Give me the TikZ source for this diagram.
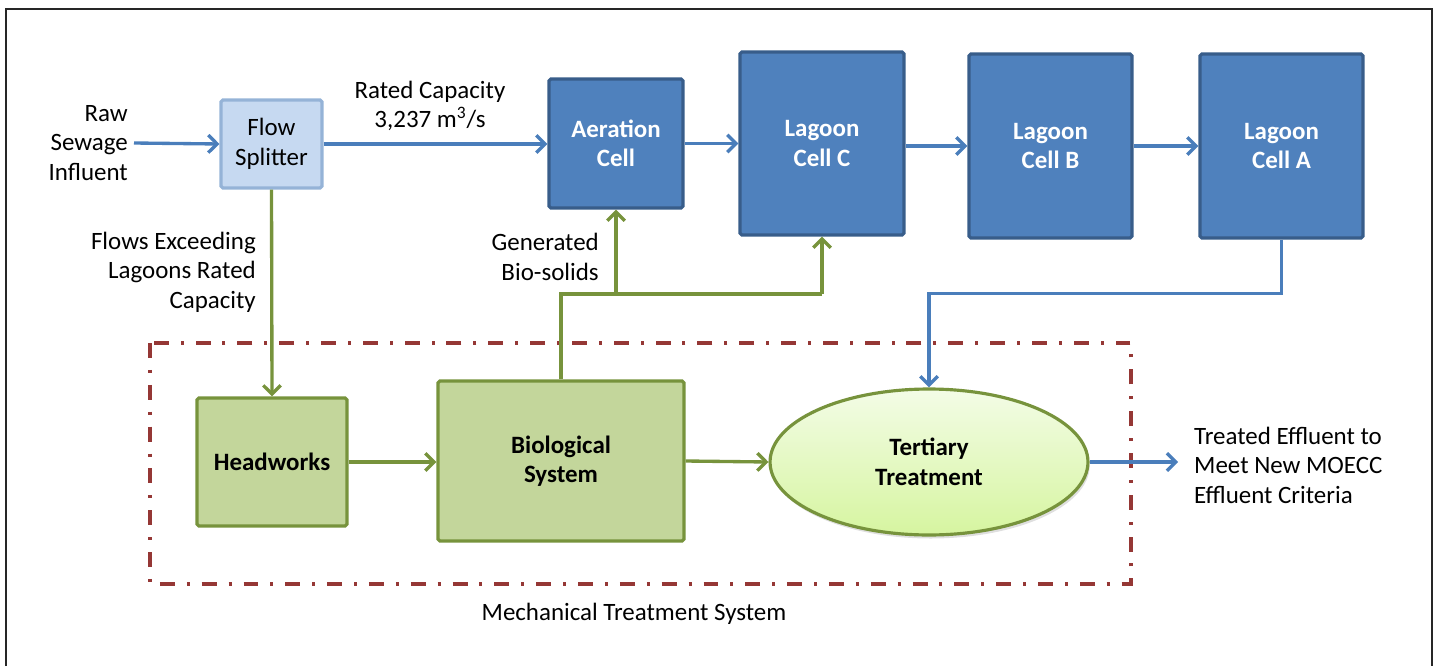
\documentclass[tikz,border=0pt]{standalone}
\usepackage{fontspec}
\setmainfont{Carlito}
\usetikzlibrary{arrows.meta,shapes.geometric,shadows}

\begin{document}
\begin{tikzpicture}[x=0.02cm, y=-0.02cm,
    every node/.style={font=\fontsize{14.2}{16.8}\selectfont},
    bluebox/.style={draw=lagoon_edge, fill=lagoon_blue, line width=1.8pt, rounded corners=1pt,
        text=white, align=center, inner sep=0pt, font=\fontsize{14.2}{16.8}\selectfont\bfseries},
    greenbox/.style={draw=mech_edge, fill=mech_green, line width=1.8pt, rounded corners=1pt,
        align=center, inner sep=0pt, font=\fontsize{14.2}{16.8}\selectfont\bfseries},
    bluearrow/.style={draw=flow_blue, line width=1.9pt, -{Straight Barb[length=5pt,width=10pt]}},
    greenarrow/.style={draw=mech_edge, line width=1.9pt, -{Straight Barb[length=5pt,width=10pt]}},
    greenline/.style={draw=mech_edge, line width=1.9pt}]

\definecolor{lagoon_blue}{HTML}{4F81BD}
\definecolor{lagoon_edge}{HTML}{385D8A}
\definecolor{flow_blue}{HTML}{4A7EBB}
\definecolor{split_fill}{HTML}{C6D9F1}
\definecolor{split_edge}{HTML}{95B3D7}
\definecolor{mech_green}{HTML}{C3D69B}
\definecolor{mech_edge}{HTML}{77933C}
\definecolor{mech_red}{HTML}{953735}
\definecolor{ter_top}{HTML}{F3FCE6}
\definecolor{ter_bottom}{HTML}{D6F5A0}

\useasboundingbox (0,0) rectangle (1436,666);

% outer frame
\draw[black!85, line width=0.9pt] (6,666) -- (6,9) -- (1432,9) -- (1432,666);

% mechanical treatment system
\draw[mech_red, line width=2.2pt, dash pattern=on 8.5pt off 6.8pt on 1.7pt off 6.8pt]
    (150,343) rectangle (1131,584);
\node (mts) at (634,614) {Mechanical Treatment System};

% lagoon train
\node[draw=split_edge, fill=split_fill, line width=1.8pt, rounded corners=1pt, align=center,
    inner sep=0pt, minimum width=2.02cm, minimum height=1.76cm] (fs) at (271.5,144) {Flow\\Splitter};
\node[bluebox, minimum width=2.68cm, minimum height=2.58cm] (aer) at (616,143.5) {Aeration\\Cell};
\node[bluebox, minimum width=3.28cm, minimum height=3.66cm] (lagC) at (822,143.5) {Lagoon\\Cell C};
\node[bluebox, minimum width=3.26cm, minimum height=3.68cm] (lagB) at (1050.5,146) {Lagoon\\Cell B};
\node[bluebox, minimum width=3.26cm, minimum height=3.68cm] (lagA) at (1281.5,146) {Lagoon\\Cell A};

% mechanical train
\node[greenbox, minimum width=3.0cm, minimum height=2.56cm] (hw) at (272,462) {Headworks};
\node[greenbox, minimum width=4.92cm, minimum height=3.2cm] (bio) at (561,461) {Biological\\System};
\node[ellipse, draw=mech_edge, line width=1.8pt, top color=ter_top, bottom color=ter_bottom,
    drop shadow={opacity=0.25, shadow xshift=1pt, shadow yshift=-2pt}, align=center,
    minimum width=6.36cm, minimum height=2.92cm, inner sep=0pt,
    font=\fontsize{14.2}{16.8}\selectfont\bfseries] (ter) at (929,462) {Tertiary\\Treatment};

% labels
\node[anchor=east, align=right] (raw) at (134,143) {Raw\\Sewage\\Influent};
\node[align=center] (cap) at (430,106) {Rated Capacity\\3,237 m\textsuperscript{3}/s};
\node[anchor=east, align=right] (exc) at (262,272) {Flows Exceeding\\Lagoons Rated\\Capacity};
\node[anchor=east, align=right] (gen) at (605,257) {Generated\\Bio-solids};
\node[anchor=west, align=left] (eff) at (1188,465) {Treated Effluent to\\Meet New MOECC\\Effluent Criteria};
\coordinate (out) at (1178,462);

% flows
\draw[bluearrow] (raw.east) -- (fs.west);
\draw[bluearrow] (fs.east) -- (fs.east -| aer.west);
\draw[bluearrow] (aer.east) -- (lagC.west);
\draw[bluearrow] (lagC.east |- 0,146) -- (lagB.west);
\draw[bluearrow] (lagB.east) -- (lagA.west);
\draw[bluearrow] (lagA.south) -- ++(0,54) -| (ter.north);
\draw[bluearrow] (ter.east) -- (out);

\draw[greenarrow] (fs.south) -- (hw.north);
\draw[greenarrow] (hw.east) -- (hw.east -| bio.west);
\draw[greenarrow] (bio.east) -- (ter.west);
\draw[greenline] (bio.north) -- (bio.north |- 0,294) -- (lagC.south |- 0,294);
\draw[greenarrow] (lagC.south |- 0,294) -- (lagC.south);
\draw[greenarrow] (aer.south |- 0,294) -- (aer.south);

\end{tikzpicture}
\end{document}
